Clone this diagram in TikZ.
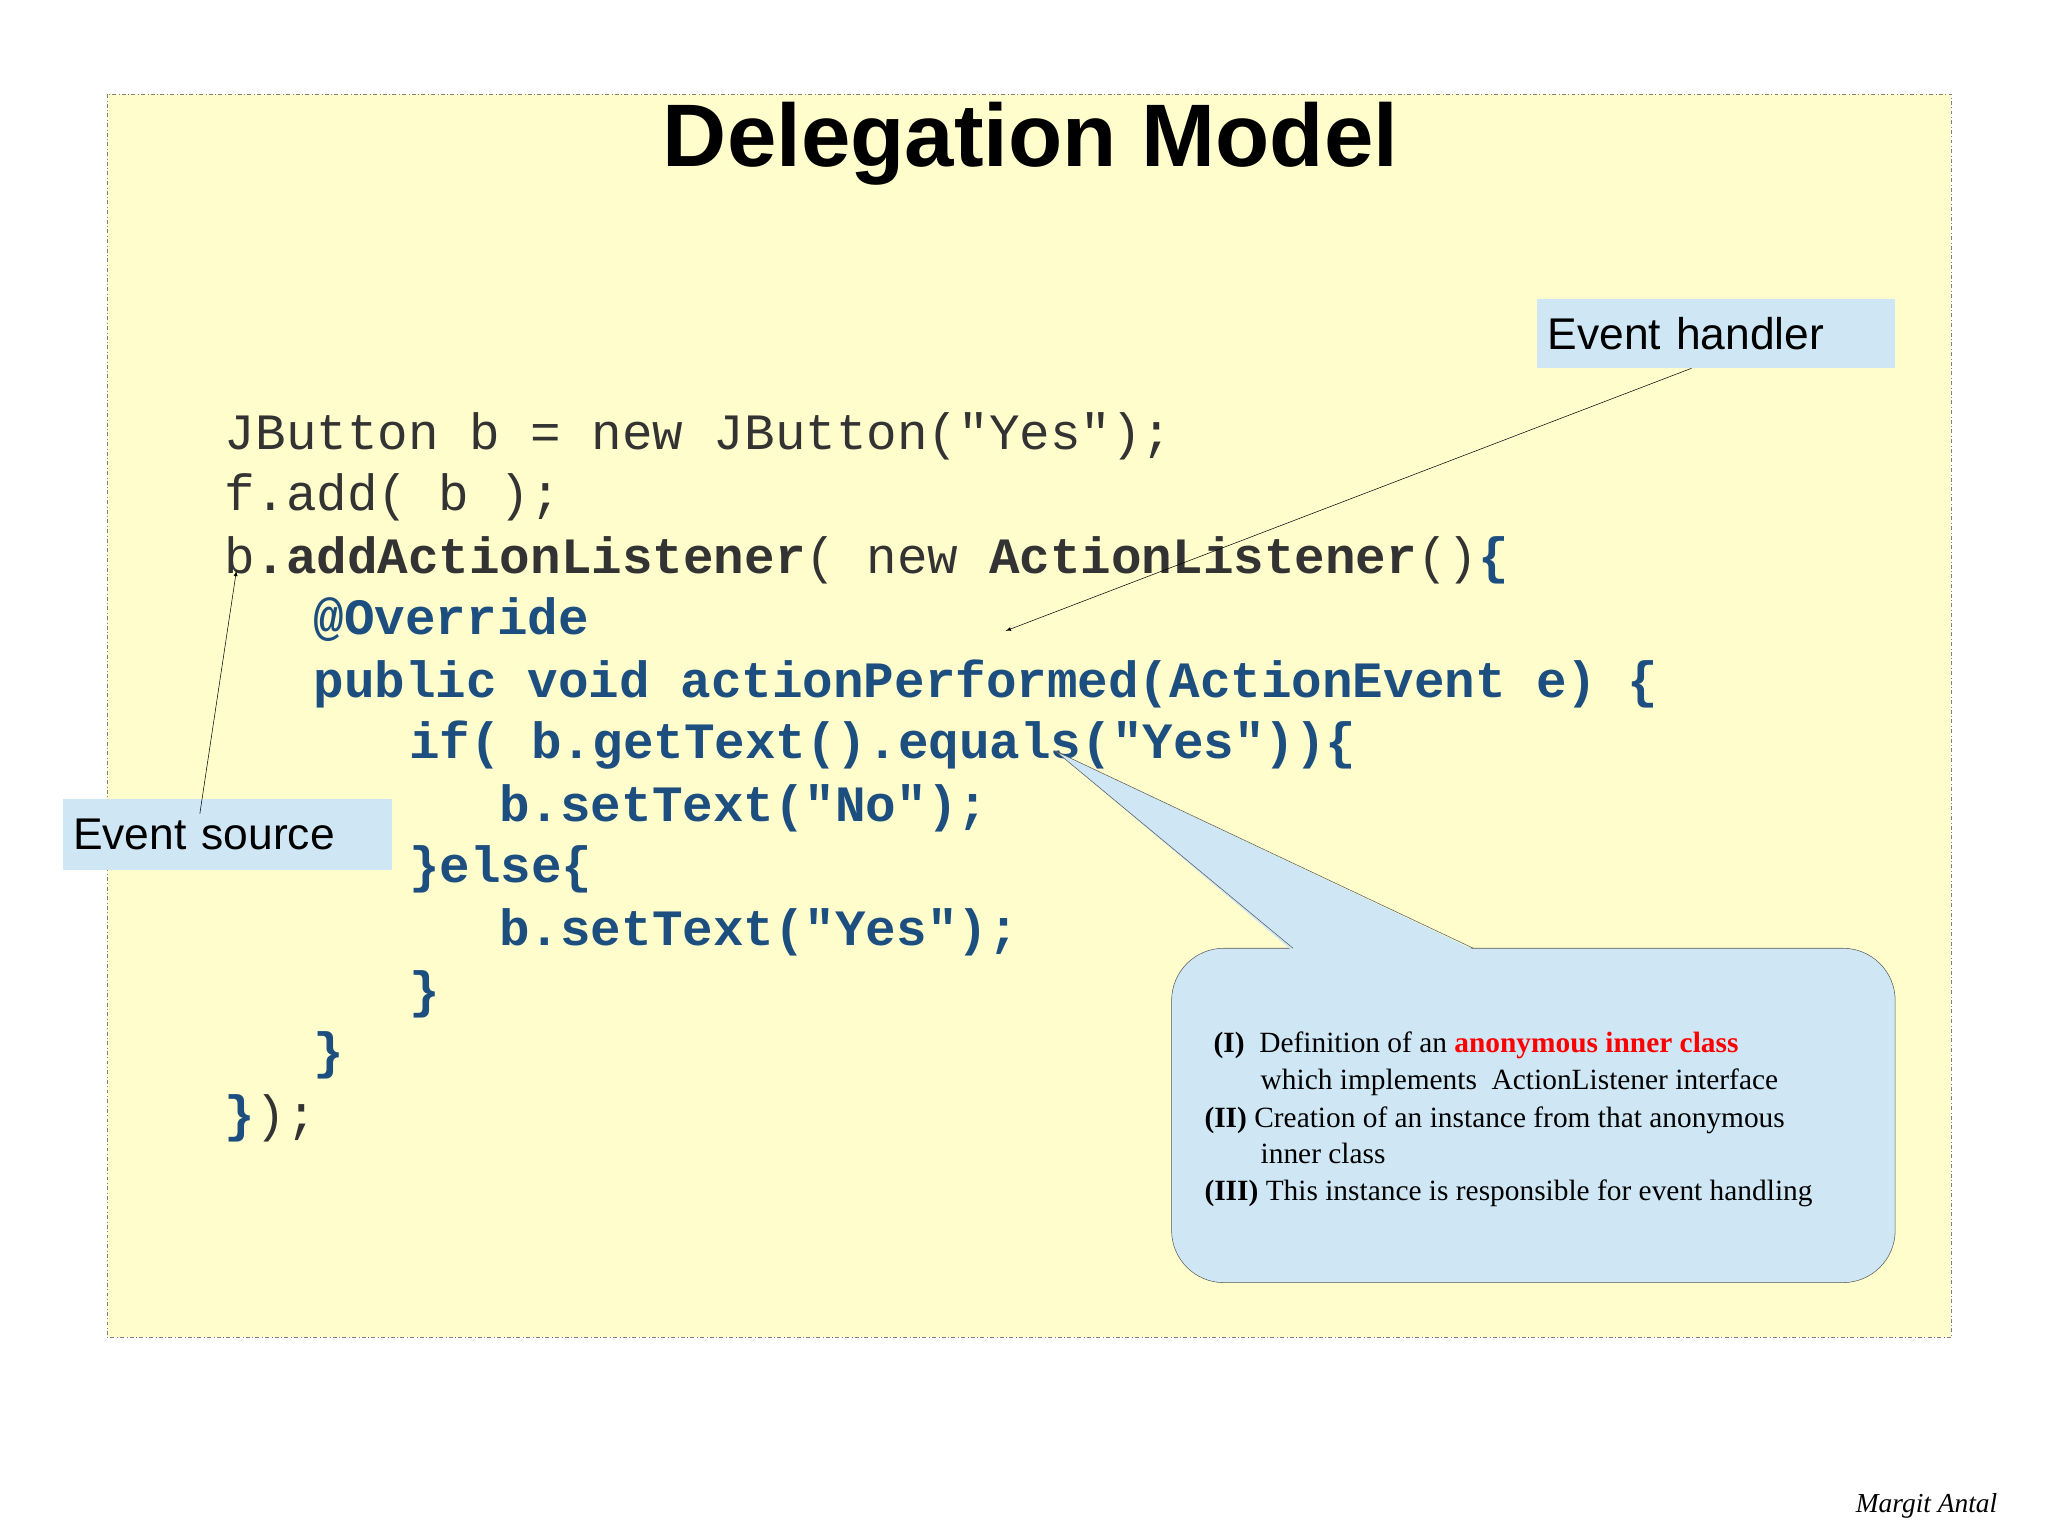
\documentclass[tikz,border=0pt]{standalone}
\usepackage{fontspec}
\setmainfont{Liberation Serif}
\newfontfamily\sansf{Liberation Sans}
\newfontfamily\monof{Liberation Mono}
\begin{document}
\begin{tikzpicture}[x=1pt,y=-1pt,
  code/.style={anchor=base west,inner sep=0pt,font=\monof\fontsize{39}{39}\selectfont,text=black!80},
  lbl/.style={fill=callblue,inner sep=0pt,font=\sansf\fontsize{34}{34}\selectfont},
  ctext/.style={anchor=base west,inner sep=0pt,font=\fontsize{22.5}{22.5}\selectfont}]
\definecolor{bgy}{HTML}{FFFDCC}
\definecolor{callblue}{HTML}{CFE7F5}
\definecolor{codeblue}{HTML}{1C4F80}
\newcommand{\bb}[1]{\textbf{#1}}
\newcommand{\bl}[1]{\textcolor{codeblue}{\textbf{#1}}}
\useasboundingbox (0,0) rectangle (1568,1177);
\fill[white] (0,0) rectangle (1568,1177);
\draw[gray,dash dot,fill=bgy] (82,72) rectangle (1494,1024);
\node[font=\sansf\bfseries\fontsize{68}{68}\selectfont] (title) at (789,110) {Delegation Model};
% code
\node[code] (l1) at (172,344) {JButton b = new JButton("Yes");};
\node[code] (l2) at (172,391) {f.add( b );};
\node[code] (l3) at (172,439) {b\bb{.addActionListener}( new \bb{ActionListener}()\bl{\{}};
\node[code] (l4) at (240,486) {\bl{@Override}};
\node[code] (l5) at (240,534) {\bl{public void actionPerformed(ActionEvent e) \{}};
\node[code] (l6) at (313,581) {\bl{if( b.getText().equals("Yes"))\{}};
\node[code] (l7) at (382,629) {\bl{b.setText("No");}};
\node[code] (l8) at (313,676) {\bl{\}else\{}};
\node[code] (l9) at (382,724) {\bl{b.setText("Yes");}};
\node[code] (l10) at (313,771) {\bl{\}}};
\node[code] (l11) at (240,818) {\bl{\}}};
\node[code] (l12) at (172,866) {\bl{\}});};
% labels
\node[lbl,minimum width=274pt,minimum height=53pt,text width=258pt,align=left] (eh) at (1314,255.5) {Event handler};
\node[lbl,minimum width=252pt,minimum height=54pt,text width=236pt,align=left] (es) at (174,639) {Event source};
\coordinate (ehs) at (1295,282);
\coordinate (eht) at (770,483);
\coordinate (ess) at (153,623);
\coordinate (est) at (181,437);
\draw[-latex] (ehs) -- (eht);
\draw[-latex] (ess) -- (est);
% callout
\draw[gray!70!black,fill=callblue,rounded corners=40pt] (897,726) rectangle (1451,982);
\coordinate (tip) at (808,575);
\fill[callblue] (989,727.5) -- (tip) -- (1129,727.5) -- cycle;
\draw[gray!70!black] (990,726) -- (tip) -- (1128,726);
\node[ctext] (c1) at (929,806) {\bfseries(I)\mdseries\ \ Definition of an \textcolor{red}{\bfseries anonymous inner class}};
\node[ctext] (c2) at (965,834) {which implements\ \ ActionListener interface};
\node[ctext] (c3) at (922,863) {\bfseries(II)\mdseries\ Creation of an instance from that anonymous};
\node[ctext] (c4) at (965,891) {inner class};
\node[ctext] (c5) at (922,919) {\bfseries(III)\mdseries\ This instance is responsible for event handling};
\node[font=\itshape\fontsize{21}{21}\selectfont] (sig) at (1475,1153) {Margit Antal};
\end{tikzpicture}
\end{document}
